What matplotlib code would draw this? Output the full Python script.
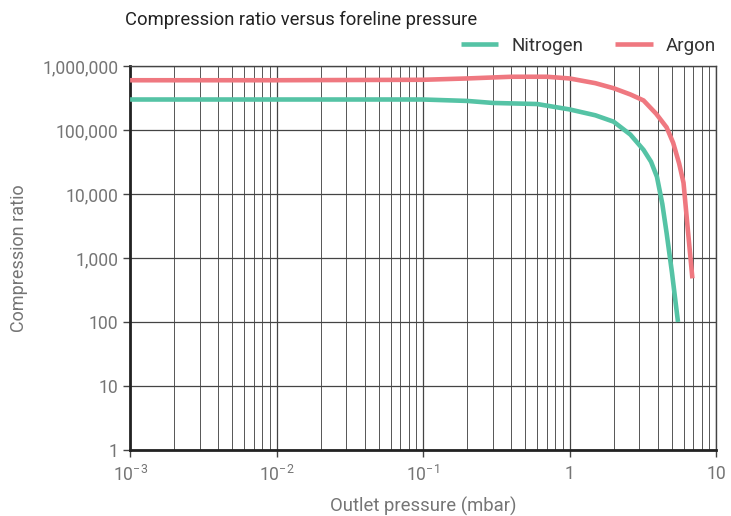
import numpy as np
import matplotlib
matplotlib.use('Agg')
import matplotlib.pyplot as plt
from matplotlib.ticker import FixedLocator, LogLocator, NullFormatter

plt.rcParams['font.family'] = ['Roboto', 'DejaVu Sans']
plt.rcParams['mathtext.fontset'] = 'custom'
plt.rcParams['mathtext.rm'] = 'Roboto'
plt.rcParams['mathtext.it'] = 'Roboto'

# values
n2_p = [0.001, 0.01, 0.1, 0.2, 0.3, 0.6, 1.0, 1.5, 2.0, 2.6, 3.2, 3.6, 3.95, 4.3, 4.6, 5.0, 5.5]
n2_ratio = [300000, 300000, 300000, 285000, 265000, 255000, 210000, 170000, 135000, 85000, 49000, 32000, 18600, 7000, 2450, 600, 100]

ar_p = [0.001, 0.01, 0.1, 0.2, 0.4, 0.7, 1.0, 1.5, 2.0, 2.6, 3.2, 3.9, 4.6, 5.1, 5.6, 6.0, 6.4, 6.9]
ar_ratio = [600000, 600000, 610000, 640000, 680000, 680000, 640000, 540000, 450000, 360000, 290000, 180000, 110000, 63000, 30000, 15000, 3000, 480]

y_ticks = [1, 10, 100, 1000, 10000, 100000, 1000000]
y_labels = ['1', '10', '100', '1,000', '10,000', '100,000', '1,000,000']
x_ticks = [0.001, 0.01, 0.1, 1, 10]
x_labels = ['$10^{-3}$', '$10^{-2}$', '$10^{-1}$', '1', '10']

fig = plt.figure(figsize=(7.31, 5.16), dpi=100)
ax = fig.add_axes([0.178, 0.128, 0.8015, 0.744])

ax.plot(n2_p, n2_ratio, color='#55c3a5', lw=3.3, label='Nitrogen', solid_capstyle='butt', zorder=3)
ax.plot(ar_p, ar_ratio, color='#ef7880', lw=3.3, label='Argon', solid_capstyle='butt', zorder=3)

ax.set_xscale('log')
ax.set_yscale('log')
ax.set_xlim(0.001, 10)
ax.set_ylim(1, 1000000)

ax.set_yticks(y_ticks)
ax.set_yticklabels(y_labels)
ax.yaxis.set_minor_locator(FixedLocator([]))
ax.set_xticks(x_ticks)
ax.set_xticklabels(x_labels)
ax.xaxis.set_minor_locator(LogLocator(base=10, subs=np.arange(2, 10)))
ax.xaxis.set_minor_formatter(NullFormatter())

ax.grid(True, which='major', axis='both', color='#444444', lw=0.9)
ax.grid(True, which='minor', axis='x', color='#555555', lw=0.7)
ax.set_axisbelow(True)

ax.tick_params(axis='both', which='major', labelsize=12.7, labelcolor='#757575',
               color='#444444', length=5, width=1)
ax.tick_params(axis='x', which='minor', length=0)
ax.tick_params(axis='x', pad=6)

for side in ['left', 'bottom']:
    ax.spines[side].set_linewidth(2)
    ax.spines[side].set_color('#222222')
for side in ['top', 'right']:
    ax.spines[side].set_linewidth(1)
    ax.spines[side].set_color('#444444')

ax.set_xlabel('Outlet pressure (mbar)', fontsize=13.3, color='#757575', labelpad=8)
ax.set_ylabel('Compression ratio', fontsize=13, color='#757575', labelpad=10)

fig.text(0.171, 0.962, 'Compression ratio versus foreline pressure', fontsize=13.2,
         color='#222222', ha='left', va='center')
leg = ax.legend(loc='lower right', bbox_to_anchor=(1.013, 1.01), ncol=2, frameon=False,
                fontsize=13.5, handlelength=2.0, columnspacing=1.7, handletextpad=0.7,
                borderaxespad=0)
for t in leg.get_texts():
    t.set_color('#333333')

fig.savefig('out.png', dpi=100)
